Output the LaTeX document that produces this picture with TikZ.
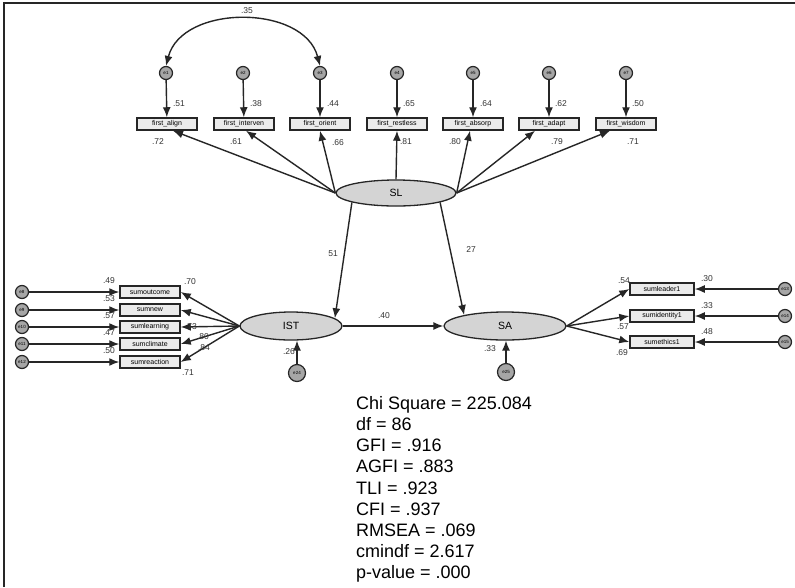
\documentclass[tikz,border=0pt]{standalone}
\usepackage{fontspec}
\setmainfont{Liberation Sans}
\usetikzlibrary{arrows.meta,shapes.geometric}
\begin{document}
\begin{tikzpicture}[x=1pt,y=-1pt,
  lat/.style={ellipse,draw=black!85,line width=1.3pt,fill=black!17,inner sep=0pt,font=\fontsize{10.5}{11}\selectfont},
  obs/.style={rectangle,draw=black!85,line width=1.5pt,fill=black!8,minimum width=60pt,minimum height=12pt,inner sep=0pt,font=\fontsize{7}{7}\selectfont},
  err/.style={circle,draw=black!85,line width=1.2pt,fill=black!35,minimum size=13pt,inner sep=0pt,font=\fontsize{4.5}{5}\selectfont},
  arr/.style={draw=black!85,line width=1.4pt,-{Latex[length=10pt,width=8pt]}},
  cov/.style={draw=black!85,line width=1.4pt,{Latex[length=10pt,width=8pt]}-{Latex[length=10pt,width=8pt]}},
  num/.style={inner sep=0pt,font=\fontsize{8.5}{9}\selectfont,text=black!80},
  fit/.style={inner sep=0pt,anchor=north west,align=left,font=\fontsize{18}{21.2}\selectfont}]
\useasboundingbox (0,0) rectangle (795,587);
\fill[white] (0,0) rectangle (795,587);
\draw[line width=1.5pt,black!85] (4,587) -- (4,3) -- (795,3);

% latent variables
\node[lat,minimum width=120pt,minimum height=26pt] (SL) at (396,193) {SL};
\node[lat,minimum width=102pt,minimum height=28pt] (IST) at (291,326) {IST};
\node[lat,minimum width=122pt,minimum height=28pt] (SA) at (505,326) {SA};

% top indicators
\node[obs] (b1) at (167,124) {first\_align};
\node[obs] (b2) at (244,124) {first\_interven};
\node[obs] (b3) at (320,124) {first\_orient};
\node[obs] (b4) at (397,124) {first\_restless};
\node[obs] (b5) at (473,124) {first\_absorp};
\node[obs] (b6) at (549,124) {first\_adapt};
\node[obs] (b7) at (626,124) {first\_wisdom};
\foreach \i/\x in {1/166,2/243,3/320,4/397,5/473,6/549,7/626}{
  \node[err] (e\i) at (\x,73) {e\i};
  \draw[arr] (e\i) -- (b\i);
}
\draw[cov] (e1.north) .. controls (182,4) and (304,4) .. (e3.north);
\node[num] (c13) at (247,11) {.35};

\draw[arr] (SL.west) -- ([xshift=6pt]b1.south);
\draw[arr] (SL.west) -- ([xshift=2pt]b2.south);
\draw[arr] (SL.west) -- (b3.south);
\draw[arr] (SL.north) -- (b4.south);
\draw[arr] (SL.east) -- ([xshift=-3pt]b5.south);
\draw[arr] (SL.east) -- ([xshift=-14pt]b6.south);
\draw[arr] (SL.east) -- ([xshift=-16pt]b7.south);

\foreach \n/\x/\t in {r1/179/.51,r2/256/.38,r3/333/.44,r4/409/.65,r5/486/.64,r6/561/.62,r7/638/.50}
  \node[num] (\n) at (\x,104) {\t};
\node[num] (l1) at (158,142) {.72};
\node[num] (l2) at (236,142) {.61};
\node[num] (l3) at (338,143) {.66};
\node[num] (l4) at (406,142) {.81};
\node[num] (l5) at (455,142) {.80};
\node[num] (l6) at (557,142) {.79};
\node[num] (l7) at (633,142) {.71};

% structural paths
\draw[arr] (SL.-168) -- (IST.10);
\draw[arr] (SL.-12) -- (SA.165);
\node[num] (p1) at (333,254) {51};
\node[num] (p2) at (471,250) {27};
\draw[arr] (IST) -- (SA);
\node[num] (p3) at (384,316) {.40};

% disturbances
\node[err,minimum size=17pt] (e24) at (297,373) {e24};
\node[err,minimum size=17pt] (e25) at (506,372) {e25};
\draw[arr] (e24) -- (e24|-IST.south);
\draw[arr] (e25) -- (e25|-SA.south);
\node[num] (d1) at (289,352) {.26};
\node[num] (d2) at (490,349) {.33};

% left indicators
\foreach \i/\y/\t/\lab in {8/292/sumoutcome/.49,9/310/sumnew/.53,10/327/sumlearning/.57,11/344/sumclimate/.47,12/362/sumreaction/.50}{
  \node[obs,minimum width=60pt] (b\i) at (150,\y) {\t};
  \node[err] (e\i) at (22,\y) {e\i};
  \draw[arr] (e\i) -- (b\i);
  \draw[arr] (IST.west) -- (b\i.east);
  \node[num] (n\i) at (109,\y-11) {\lab};
}
\node[num] (m8) at (190,282) {.70};
\node[num] (m10) at (191,327) {.73};
\node[num] (m11) at (203,337) {.80};
\node[num] (m12) at (204,348) {.84};
\node[num] (m13) at (188,373) {.71};

% right indicators
\foreach \i/\y/\t/\lab in {13/289/sumleader1/.30,14/316/sumidentity1/.33,15/342/sumethics1/.48}{
  \node[obs,minimum width=64pt] (b\i) at (662,\y) {\t};
  \node[err] (e\i) at (785,\y) {e\i};
  \draw[arr] (e\i) -- (b\i);
  \draw[arr] (SA.east) -- (b\i.west);
  \node[num] (n\i) at (707,\y-10) {\lab};
}
\node[num] (q13) at (624,281) {.54};
\node[num] (q14) at (623,327) {.57};
\node[num] (q15) at (622,353) {.69};

% fit statistics
\node[fit] (stats) at (356,396) {Chi Square = 225.084\\ df = 86\\ GFI = .916\\ AGFI = .883\\ TLI = .923\\ CFI = .937\\ RMSEA = .069\\ cmindf = 2.617\\ p-value = .000};
\end{tikzpicture}
\end{document}
